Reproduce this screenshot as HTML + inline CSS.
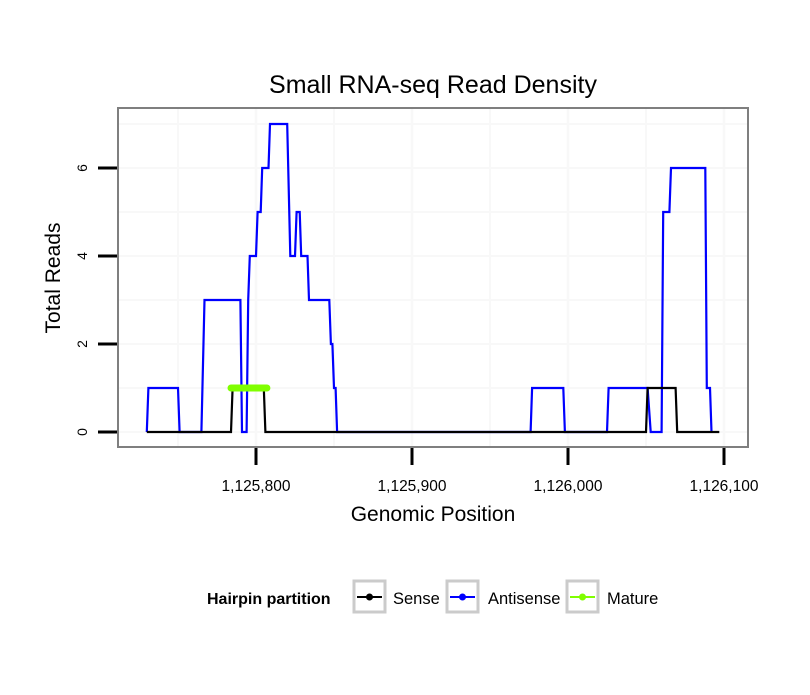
<!DOCTYPE html>
<html><head><meta charset="utf-8"><style>
body{margin:0;background:#fff;font-family:"Liberation Sans",sans-serif}
svg text{font-family:"Liberation Sans",sans-serif}
</style></head><body>
<svg width="810" height="690">
<script>
const antiPos=[1125730,1125731,1125750,1125751,1125765,1125767,1125790,1125791,1125794,1125795,1125796,1125800,1125801,1125803,1125804,1125808,1125809,1125820,1125822,1125825,1125826,1125828,1125829,1125833,1125834,1125847,1125848,1125849,1125850,1125851,1125852,1125976,1125977,1125997,1125998,1126025,1126026,1126051,1126053,1126060,1126061,1126065,1126066,1126088,1126089,1126091,1126092];
const antiVal=[0,1,1,0,0,3,3,0,0,3,4,4,5,5,6,6,7,7,4,4,5,5,4,4,3,3,2,2,1,1,0,0,1,1,0,0,1,1,0,0,5,5,6,6,1,1,0];
const sensePos=[1125730,1125784,1125785,1125805,1125806,1126050,1126051,1126069,1126070,1126097];
const senseVal=[0,0,1,1,0,0,1,1,0,0];
const maturePos=[1125784,1125807];
const matureVal=[1,1];
const xTicks=[1125800,1125900,1126000,1126100];
const xTickLabels=["1,125,800","1,125,900","1,126,000","1,126,100"];
const yTicks=[0,2,4,6];
</script>
<g id="g"></g>
<script>
const NS="http://www.w3.org/2000/svg";
const g=document.getElementById('g');
const X=v=>256+(v-1125800)*1.56;
const Y=v=>432-v*44;
function el(t,a,p){const e=document.createElementNS(NS,t);for(const k in a)e.setAttribute(k,a[k]);(p||g).appendChild(e);return e;}
const bg=el('rect',{x:118,y:108,width:630,height:339,fill:'#fff'});


for(let v=1125750;v<=1126100;v+=50){const l=el('line',{x1:X(v),x2:X(v),y1:109,y2:446,stroke:'#f8f8f8','stroke-width':v%100===0?2.5:2});

}
for(let v=0;v<=7;v++){const l=el('line',{x1:119,x2:747,y1:Y(v),y2:Y(v),stroke:'#f8f8f8','stroke-width':2});

}
function series(pos,val,color,w,name){
 const d=pos.map((p,i)=>(i?'L':'M')+X(p).toFixed(1)+','+Y(val[i]).toFixed(1)).join('');
 const p=el('path',{d:d,fill:'none',stroke:color,'stroke-width':w,'stroke-linejoin':'miter','stroke-linecap':name==='mature-line'?'round':'butt'});
 
 
}
series(antiPos,antiVal,'#0000ff',2.2,'antisense-line');
series(sensePos,senseVal,'#000',2.2,'sense-line');
series(maturePos,matureVal,'#80ff00',7,'mature-line');
const bd=el('rect',{x:118,y:108,width:630,height:339,fill:'none',stroke:'#7f7f7f','stroke-width':2});


xTicks.forEach((v,i)=>{
 const t=el('line',{x1:X(v),x2:X(v),y1:448,y2:465,stroke:'#000','stroke-width':3});
 
 
 const tx=el('text',{x:X(v),y:491,'font-size':15.5,'text-anchor':'middle',fill:'#000'});tx.textContent=xTickLabels[i];
 
 
});
yTicks.forEach(v=>{
 const t=el('line',{x1:98,x2:117,y1:Y(v),y2:Y(v),stroke:'#000','stroke-width':3});
 
 
 const tx=el('text',{x:87,y:Y(v),'font-size':14,'text-anchor':'middle',transform:`rotate(-90 87 ${Y(v)})`});tx.textContent=v;
 
 
});
</script>
<text x="433" y="93" font-size="25" text-anchor="middle">Small RNA-seq Read Density</text>
<text x="433" y="521" font-size="21" text-anchor="middle">Genomic Position</text>
<text x="60" y="278" font-size="21" text-anchor="middle" transform="rotate(-90 60 278)">Total Reads</text>
<g>
<text x="207" y="604" font-size="16" font-weight="bold">Hairpin partition</text>
<g>
<rect x="354" y="581" width="31" height="31" fill="#fff" stroke="#cbcbcb" stroke-width="3"/>
<line x1="357" x2="382" y1="597" y2="597" stroke="#000" stroke-width="2"/><circle cx="369.5" cy="597" r="3.5" fill="#000"/>
<text x="393" y="604" font-size="16.5">Sense</text></g>
<g>
<rect x="447" y="581" width="31" height="31" fill="#fff" stroke="#cbcbcb" stroke-width="3"/>
<line x1="450" x2="475" y1="597" y2="597" stroke="#0000ff" stroke-width="2"/><circle cx="462.5" cy="597" r="3.5" fill="#0000ff"/>
<text x="488" y="604" font-size="16.5">Antisense</text></g>
<g>
<rect x="567" y="581" width="31" height="31" fill="#fff" stroke="#cbcbcb" stroke-width="3"/>
<line x1="570" x2="595" y1="597" y2="597" stroke="#80ff00" stroke-width="2"/><circle cx="582.5" cy="597" r="3.5" fill="#80ff00"/>
<text x="607" y="604" font-size="16.5">Mature</text></g>
</g>
</svg>
</body></html>
